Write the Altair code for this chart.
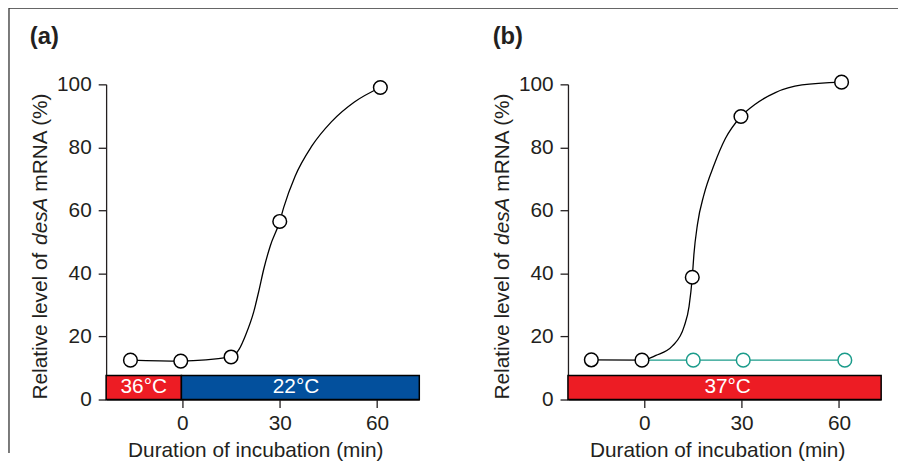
import altair as alt
import pandas as pd

FONT = "Liberation Sans"
INK = "#231f20"

# ---- data ----
# panel (a): measured points
a_time = [-16.0, -0.5, 15.0, 30.0, 61.0]
a_level = [12.5, 12.2, 13.5, 56.5, 99.0]
# panel (a): the smooth curve as drawn in the figure (traced)
a_curve_time = [-16.0, -0.5, 15.0, 17.5, 19.5, 22.0, 23.5, 25.1, 27.1, 30.0, 31.2, 34.7, 39.8, 45.9, 53.0, 61.0]
a_curve_level = [12.5, 12.2, 13.5, 16.0, 20.5, 27.9, 34.2, 41.5, 48.8, 56.5, 60.9, 70.8, 80.3, 88.1, 94.4, 99.0]
a_bar_start = [-23.5, -0.3]
a_bar_end = [-0.3, 73.0]
a_bar_label = ["36°C", "22°C"]
a_bar_label_x = [-11.9, 35.0]

# panel (b): measured points
b_time = [-16.3, -0.7, 14.8, 29.8, 60.8]
b_level = [12.6, 12.5, 38.8, 89.8, 100.7]
# panel (b): the smooth curve as drawn in the figure (traced)
b_curve_time = [-16.3, -0.7, 3.6, 8.7, 12.3, 13.8, 14.8, 15.3, 16.4, 18.4, 21.5, 25.0, 29.8, 34.2, 40.4, 48.6, 60.8]
b_curve_level = [12.6, 12.5, 14.0, 17.0, 23.2, 29.5, 38.8, 46.0, 55.6, 65.0, 74.4, 82.8, 89.8, 93.7, 97.4, 99.8, 100.7]
b_ctrl_time = [-0.7, 15.1, 30.5, 61.8]
b_ctrl_level = [12.5, 12.5, 12.5, 12.5]
b_bar_start = [-23.5]
b_bar_end = [73.0]
b_bar_label = ["37°C"]
b_bar_label_x = [25.7]

x_ticks = [0, 30, 60]
y_ticks = [0, 20, 40, 60, 80, 100]
x_domain = [-23.5, 73]
y_domain = [0, 100]
temp_colors = {"36°C": "#ed1c24", "22°C": "#03509d", "37°C": "#ed1c24"}

W, H = 316, 318


def xenc(field, axis=True):
    if axis:
        ax = alt.Axis(values=x_ticks, tickSize=8, labelPadding=5, labelFontSize=21,
                      labelFont=FONT, labelColor=INK, tickColor=INK, domainColor=INK,
                      tickWidth=1.3, domainWidth=1.3, grid=False,
                      title="Duration of incubation (min)", titleFont=FONT,
                      titleFontSize=21, titleFontWeight="normal", titleColor=INK,
                      titleX=150.5, titleY=57, titleBaseline="alphabetic",
                      titleAlign="center")
        return alt.X(field, type="quantitative", scale=alt.Scale(domain=x_domain, nice=False, zero=False), axis=ax)
    return alt.X(field, type="quantitative", scale=alt.Scale(domain=x_domain, nice=False, zero=False))


def yenc(field, axis=True):
    if axis:
        ax = alt.Axis(values=y_ticks, tickSize=8, labelPadding=7, labelFontSize=21,
                      labelFont=FONT, labelColor=INK, tickColor=INK, domainColor=INK,
                      tickWidth=1.3, domainWidth=1.3, grid=False, title=None)
        return alt.Y(field, type="quantitative", scale=alt.Scale(domain=y_domain, nice=False), axis=ax)
    return alt.Y(field, type="quantitative", scale=alt.Scale(domain=y_domain, nice=False))


def one(txt):
    return pd.DataFrame({"t": [txt]})


def ytitle():
    parts = [("Relative level of", "normal", 318), ("desA", "italic", 162), ("mRNA (%)", "normal", 108.3)]
    layers = []
    for txt, style, ypos in parts:
        layers.append(
            alt.Chart(one(txt)).mark_text(angle=270, align="left", baseline="alphabetic",
                                          font=FONT, fontSize=21, fontStyle=style, color=INK)
            .encode(text="t:N", x=alt.value(-60), y=alt.value(ypos))
        )
    return layers


def panel_label(txt, xpos):
    return alt.Chart(one(txt)).mark_text(align="left", baseline="alphabetic", font=FONT,
                                         fontSize=24, fontWeight="bold", color=INK).encode(
        text="t:N", x=alt.value(xpos), y=alt.value(-41))


def bars(starts, ends, labels, label_x):
    df = pd.DataFrame({"s": starts, "e": ends, "label": labels, "lx": label_x})
    rect = alt.Chart(df).mark_rect(stroke="black", strokeWidth=1.5).encode(
        x=xenc("s"), x2="e", y=alt.datum(0), y2=alt.datum(7.6),
        color=alt.Color("label:N", legend=None,
                        scale=alt.Scale(domain=list(temp_colors.keys()), range=list(temp_colors.values()))))
    txt = alt.Chart(df).mark_text(color="white", font=FONT, fontSize=21, baseline="middle").encode(
        x=xenc("lx", False), y=alt.datum(3.8), text="label:N")
    return [rect, txt]


def curve(times, levels, color):
    df = pd.DataFrame({"t": times, "v": levels})
    return alt.Chart(df).mark_line(interpolate="monotone", color=color, strokeWidth=1.3).encode(
        x=xenc("t", False), y=yenc("v", False))


def dots(times, levels, color):
    df = pd.DataFrame({"t": times, "v": levels})
    return alt.Chart(df).mark_point(shape="circle", filled=True, fill="white", stroke=color,
                                    strokeWidth=1.5, size=190, opacity=1).encode(
        x=xenc("t", False), y=yenc("v", False))


# frame lines (top and left border of the figure)
frame_left = alt.Chart(one("f")).mark_rule(color="#333333", strokeWidth=1.3).encode(
    x=alt.value(-98), y=alt.value(-77), y2=alt.value(372))
frame_top = alt.Chart(one("f")).mark_rule(color="#333333", strokeWidth=1.3).encode(
    x=alt.value(-98), x2=alt.value(799), y=alt.value(-77))

# axis carrier layers
axis_a = alt.Chart(pd.DataFrame({"t": a_time, "v": a_level})).mark_point(opacity=0).encode(
    x=xenc("t"), y=yenc("v"))
axis_b = alt.Chart(pd.DataFrame({"t": b_time, "v": b_level})).mark_point(opacity=0).encode(
    x=xenc("t"), y=yenc("v"))

panel_a = alt.layer(
    axis_a,
    *bars(a_bar_start, a_bar_end, a_bar_label, a_bar_label_x),
    curve(a_curve_time, a_curve_level, "black"),
    dots(a_time, a_level, "black"),
    *ytitle(),
    panel_label("(a)", -77),
    frame_left, frame_top,
).properties(width=W, height=H)

panel_b = alt.layer(
    axis_b,
    *bars(b_bar_start, b_bar_end, b_bar_label, b_bar_label_x),
    curve(b_ctrl_time, b_ctrl_level, "#1a9b8a"),
    dots(b_ctrl_time[1:], b_ctrl_level[1:], "#1a9b8a"),
    curve(b_curve_time, b_curve_level, "black"),
    dots(b_time, b_level, "black"),
    *ytitle(),
    panel_label("(b)", -76),
).properties(width=W, height=H)

chart = alt.hconcat(panel_a, panel_b, spacing=150, bounds="flush").properties(
    padding={"left": 0, "top": -3, "right": 0, "bottom": 0}, background="white"
).configure_view(stroke=None)

chart.save("out.html", embed_options={"renderer": "svg", "actions": False})
